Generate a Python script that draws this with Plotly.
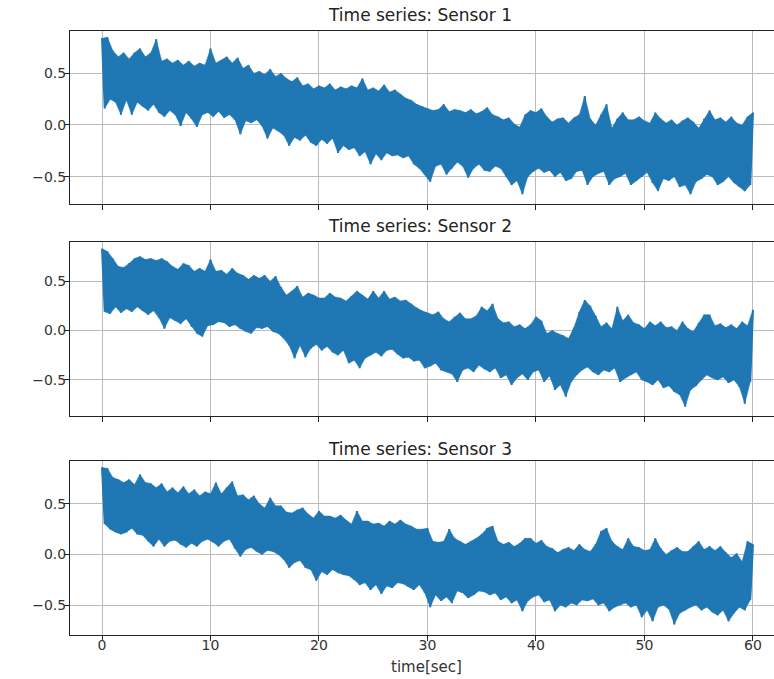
import plotly.graph_objects as go

# Sampling grid: local peaks every 0.5 s (t = 0, 0.5, ...), troughs in between (t = 0.25, 0.75, ...)
STEP = 0.5

s1_peaks = [0.84, 0.85, 0.72, 0.66, 0.70, 0.64, 0.70, 0.74, 0.66, 0.70, 0.83, 0.62, 0.64, 0.60, 0.63, 0.58,
            0.62, 0.57, 0.60, 0.58, 0.74, 0.60, 0.63, 0.66, 0.60, 0.65, 0.55, 0.58, 0.50, 0.52, 0.49, 0.54,
            0.47, 0.50, 0.45, 0.42, 0.46, 0.38, 0.40, 0.35, 0.38, 0.36, 0.40, 0.34, 0.37, 0.35, 0.38, 0.36,
            0.45, 0.34, 0.36, 0.33, 0.39, 0.32, 0.34, 0.30, 0.26, 0.24, 0.20, 0.18, 0.16, 0.14, 0.15, 0.20,
            0.13, 0.15, 0.14, 0.12, 0.15, 0.11, 0.13, 0.17, 0.10, 0.08, 0.05, 0.07, 0.01, -0.02, 0.10, 0.14,
            0.12, 0.16, 0.08, 0.03, 0.06, 0.07, 0.02, 0.07, 0.10, 0.28, 0.06, 0.00, 0.10, 0.20, -0.03, 0.06,
            0.12, 0.05, 0.05, 0.08, 0.04, 0.02, 0.12, 0.06, 0.02, 0.05, 0.00, 0.04, 0.07, 0.03, -0.03, 0.06,
            0.14, 0.05, 0.07, 0.03, 0.08, 0.02, 0.00, 0.08, 0.12]
s1_troughs = [0.16, 0.25, 0.22, 0.10, 0.24, 0.10, 0.22, 0.18, 0.14, 0.20, 0.12, 0.08, 0.14, 0.10, -0.01, 0.12,
              0.06, -0.02, 0.10, 0.12, 0.08, 0.13, 0.07, 0.10, 0.05, -0.09, 0.04, 0.02, 0.05, -0.01, -0.13, -0.03,
              -0.06, -0.10, -0.20, -0.12, -0.15, -0.10, -0.17, -0.20, -0.14, -0.18, -0.13, -0.27, -0.20, -0.24,
              -0.22, -0.30, -0.26, -0.38, -0.28, -0.34, -0.27, -0.30, -0.29, -0.32, -0.30, -0.38, -0.42, -0.48,
              -0.55, -0.40, -0.38, -0.48, -0.42, -0.36, -0.40, -0.51, -0.42, -0.38, -0.44, -0.45, -0.40, -0.42,
              -0.50, -0.58, -0.54, -0.67, -0.50, -0.45, -0.42, -0.46, -0.44, -0.50, -0.46, -0.54, -0.52, -0.45,
              -0.44, -0.58, -0.50, -0.47, -0.45, -0.58, -0.52, -0.50, -0.47, -0.58, -0.54, -0.50, -0.46, -0.56,
              -0.64, -0.52, -0.54, -0.50, -0.60, -0.58, -0.67, -0.55, -0.52, -0.48, -0.50, -0.58, -0.55, -0.50,
              -0.56, -0.60, -0.64, -0.58]

s2_peaks = [0.83, 0.80, 0.73, 0.65, 0.64, 0.68, 0.73, 0.75, 0.72, 0.73, 0.71, 0.73, 0.70, 0.65, 0.62, 0.68,
            0.66, 0.60, 0.63, 0.60, 0.72, 0.60, 0.61, 0.57, 0.63, 0.58, 0.56, 0.52, 0.56, 0.53, 0.56, 0.50,
            0.55, 0.44, 0.36, 0.40, 0.45, 0.34, 0.38, 0.36, 0.33, 0.33, 0.38, 0.34, 0.33, 0.30, 0.35, 0.40,
            0.36, 0.32, 0.40, 0.33, 0.40, 0.32, 0.34, 0.30, 0.31, 0.27, 0.23, 0.20, 0.18, 0.16, 0.19, 0.12,
            0.09, 0.14, 0.18, 0.12, 0.12, 0.15, 0.24, 0.20, 0.27, 0.12, 0.08, 0.09, 0.04, 0.06, 0.02, 0.06,
            0.14, 0.10, -0.03, 0.00, -0.03, -0.05, -0.08, 0.03, 0.19, 0.31, 0.25, 0.15, 0.04, 0.08, 0.02, 0.24,
            0.10, 0.16, 0.08, 0.06, 0.02, 0.09, 0.05, 0.09, 0.03, 0.04, 0.00, 0.09, 0.02, -0.01, 0.08, 0.16,
            0.16, 0.05, 0.07, 0.03, 0.06, 0.02, 0.09, 0.05, 0.21]
s2_troughs = [0.19, 0.17, 0.24, 0.18, 0.22, 0.19, 0.24, 0.20, 0.16, 0.20, 0.13, 0.02, 0.13, 0.10, 0.07, 0.12,
              0.04, -0.03, -0.06, 0.05, 0.06, 0.09, 0.08, 0.04, 0.06, 0.02, -0.01, -0.03, 0.03, 0.02, 0.04, -0.01,
              -0.03, -0.08, -0.15, -0.28, -0.15, -0.27, -0.18, -0.14, -0.20, -0.16, -0.22, -0.25, -0.20, -0.33,
              -0.30, -0.38, -0.28, -0.25, -0.22, -0.26, -0.20, -0.19, -0.24, -0.28, -0.27, -0.31, -0.30, -0.38,
              -0.36, -0.33, -0.40, -0.42, -0.44, -0.52, -0.40, -0.38, -0.42, -0.35, -0.39, -0.42, -0.38, -0.48,
              -0.45, -0.55, -0.48, -0.44, -0.50, -0.42, -0.40, -0.52, -0.46, -0.60, -0.55, -0.67, -0.52, -0.45,
              -0.40, -0.37, -0.42, -0.45, -0.40, -0.42, -0.38, -0.52, -0.48, -0.45, -0.42, -0.50, -0.52, -0.55,
              -0.50, -0.58, -0.56, -0.62, -0.65, -0.77, -0.60, -0.56, -0.50, -0.45, -0.48, -0.50, -0.47, -0.53,
              -0.50, -0.57, -0.74, -0.52]

s3_peaks = [0.86, 0.85, 0.76, 0.74, 0.71, 0.74, 0.69, 0.79, 0.71, 0.70, 0.66, 0.70, 0.62, 0.66, 0.61, 0.67,
            0.60, 0.64, 0.58, 0.62, 0.60, 0.71, 0.60, 0.66, 0.72, 0.58, 0.59, 0.54, 0.58, 0.50, 0.46, 0.56,
            0.48, 0.48, 0.42, 0.41, 0.44, 0.46, 0.40, 0.36, 0.43, 0.38, 0.38, 0.36, 0.39, 0.34, 0.30, 0.43,
            0.33, 0.33, 0.30, 0.31, 0.28, 0.33, 0.30, 0.34, 0.30, 0.28, 0.25, 0.25, 0.26, 0.13, 0.12, 0.13,
            0.25, 0.16, 0.13, 0.10, 0.13, 0.16, 0.20, 0.26, 0.28, 0.13, 0.10, 0.12, 0.08, 0.11, 0.16, 0.16,
            0.11, 0.14, 0.08, 0.06, 0.02, 0.05, 0.07, 0.04, 0.10, 0.05, 0.03, 0.10, 0.23, 0.26, 0.13, 0.08,
            0.05, 0.16, 0.08, 0.07, 0.04, 0.05, 0.16, 0.06, 0.00, 0.04, 0.07, 0.03, 0.03, 0.08, 0.13, 0.05,
            0.08, 0.04, 0.08, 0.02, -0.03, 0.01, -0.07, 0.13, 0.10]
s3_troughs = [0.30, 0.25, 0.22, 0.20, 0.22, 0.26, 0.20, 0.19, 0.13, 0.08, 0.15, 0.08, 0.13, 0.14, 0.10, 0.07,
              0.11, 0.08, 0.13, 0.15, 0.12, 0.08, 0.13, 0.15, 0.06, -0.02, 0.05, 0.07, 0.03, 0.00, 0.04, 0.03,
              0.00, -0.05, -0.13, -0.08, -0.06, -0.13, -0.15, -0.26, -0.17, -0.20, -0.15, -0.18, -0.20, -0.21,
              -0.25, -0.30, -0.28, -0.35, -0.30, -0.39, -0.31, -0.33, -0.28, -0.29, -0.32, -0.35, -0.30, -0.38,
              -0.52, -0.40, -0.46, -0.42, -0.48, -0.36, -0.38, -0.43, -0.40, -0.36, -0.37, -0.40, -0.38, -0.45,
              -0.42, -0.48, -0.45, -0.56, -0.46, -0.42, -0.40, -0.47, -0.45, -0.56, -0.50, -0.52, -0.48, -0.50,
              -0.45, -0.46, -0.44, -0.50, -0.48, -0.56, -0.52, -0.50, -0.48, -0.52, -0.50, -0.62, -0.55, -0.66,
              -0.52, -0.50, -0.54, -0.69, -0.58, -0.55, -0.52, -0.50, -0.55, -0.52, -0.57, -0.60, -0.55, -0.66,
              -0.58, -0.52, -0.55, -0.45]

titles = ["Time series: Sensor 1", "Time series: Sensor 2", "Time series: Sensor 3"]
x_ticks = [0, 10, 20, 30, 40, 50, 60]
y_ticks = [-0.5, 0.0, 0.5]
x_label = "time[sec]"


def series(peaks, troughs):
    pts = [(i * STEP, v) for i, v in enumerate(peaks)]
    pts += [(i * STEP + STEP / 2, v) for i, v in enumerate(troughs)]
    pts.sort(key=lambda p: p[0])
    return [p[0] for p in pts], [p[1] for p in pts]


def band(peaks, troughs):
    up_x = [i * STEP for i in range(len(peaks))]
    lo_x = [i * STEP + STEP / 2 for i in range(len(troughs))]
    return up_x + lo_x[::-1], list(peaks) + list(troughs)[::-1]


W, H = 774, 679
FONT = "DejaVu Sans, Verdana, sans-serif"
BLUE = "#1f77b4"

# panel pixel boxes (top, bottom) and y ranges
panels = [
    (30.7, 204.0, [-0.765, 0.913]),
    (241.7, 416.0, [-0.865, 0.900]),
    (461.0, 635.0, [-0.795, 0.923]),
]
title_y = [15, 226, 449]
data = [(s1_peaks, s1_troughs), (s2_peaks, s2_troughs), (s3_peaks, s3_troughs)]

fig = go.Figure()
layout = dict(
    width=W, height=H, margin=dict(l=0, r=0, t=0, b=0),
    paper_bgcolor="white", plot_bgcolor="white", showlegend=False,
    font=dict(family=FONT, size=14, color="#333333"),
)
x_left = 70.0 / W
for k, ((top, bot, yr), (pk, tr)) in enumerate(zip(panels, data)):
    n = "" if k == 0 else str(k + 1)
    bx, by = band(pk, tr)
    fig.add_trace(go.Scatter(x=bx, y=by, mode="lines", fill="toself", fillcolor=BLUE,
                             line=dict(color=BLUE, width=0.5),
                             xaxis="x" + n, yaxis="y" + n, hoverinfo="skip"))
    xs, ys = series(pk, tr)
    fig.add_trace(go.Scatter(x=xs, y=ys, mode="lines", line=dict(color=BLUE, width=2.0),
                             xaxis="x" + n, yaxis="y" + n, hoverinfo="skip"))
    common = dict(showline=True, mirror=True, linecolor="#222222", linewidth=1,
                  ticks="outside", ticklen=5, tickcolor="#222222", tickwidth=1,
                  showgrid=True, gridcolor="#bcbcbc", gridwidth=1, zeroline=False,
                  tickfont=dict(family=FONT, size=14, color="#333333"))
    layout["xaxis" + n] = dict(common, domain=[x_left, 1.0], range=[-2.95, 61.94],
                               tickmode="array", tickvals=x_ticks, ticklabelstandoff=-8,
                               showticklabels=(k == 2), anchor="y" + n)
    layout["yaxis" + n] = dict(common, domain=[1 - bot / H, 1 - top / H], range=yr,
                               tickmode="array", tickvals=y_ticks, ticklabelstandoff=-5,
                               ticktext=["\u22120.5", "0.0", "0.5"], anchor="x" + n)

annotations = []
for k, t in enumerate(titles):
    annotations.append(dict(text=t, x=420 / W, y=1 - title_y[k] / H, xref="paper", yref="paper",
                            showarrow=False, xanchor="center", yanchor="middle",
                            font=dict(family=FONT, size=17, color="#222222")))
annotations.append(dict(text=x_label, x=426 / W, y=1 - 667 / H, xref="paper", yref="paper",
                        showarrow=False, xanchor="center", yanchor="middle",
                        font=dict(family=FONT, size=15, color="#333333")))
layout["annotations"] = annotations
fig.update_layout(**layout)
fig.write_html("out.html", config={"displayModeBar": False},
               post_script="document.body.style.margin='0';document.body.style.overflow='hidden';")
